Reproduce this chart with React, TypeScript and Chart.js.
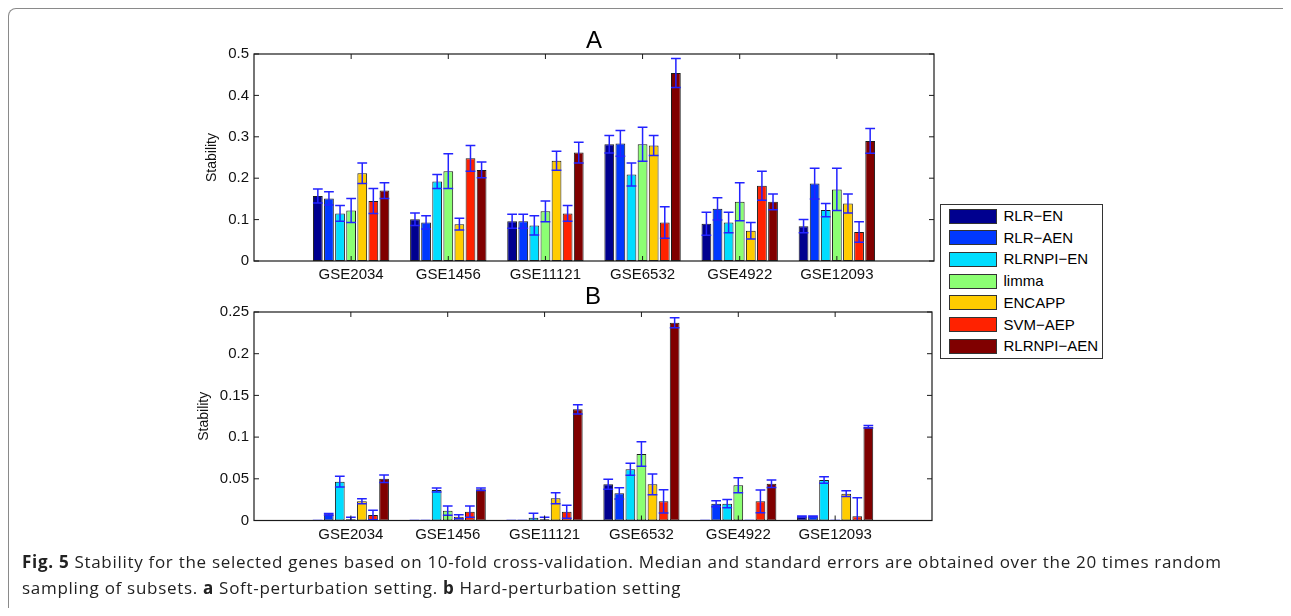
import React, { useEffect, useRef } from 'react';
import { Chart, registerables } from 'chart.js';

Chart.register(...registerables);

// ---------- data ----------
const categories = ['', 'GSE2034', 'GSE1456', 'GSE11121', 'GSE6532', 'GSE4922', 'GSE12093', ''];
const methods = ['RLR−EN', 'RLR−AEN', 'RLRNPI−EN', 'limma', 'ENCAPP', 'SVM−AEP', 'RLRNPI−AEN'];
const colors = ['#00008F', '#0038FF', '#00DDFF', '#8CFF73', '#FFCC00', '#FF2200', '#800000'];

// Panel A (soft perturbation) medians
const rlrEnA = [0.157, 0.101, 0.096, 0.282, 0.090, 0.084];
const rlrAenA = [0.151, 0.093, 0.096, 0.284, 0.126, 0.187];
const rlrnpiEnA = [0.115, 0.192, 0.086, 0.209, 0.093, 0.123];
const limmaA = [0.122, 0.217, 0.120, 0.282, 0.143, 0.173];
const encappA = [0.212, 0.089, 0.242, 0.279, 0.073, 0.139];
const svmAepA = [0.145, 0.248, 0.115, 0.093, 0.182, 0.070];
const rlrnpiAenA = [0.170, 0.220, 0.262, 0.454, 0.143, 0.290];

// Panel A standard errors
const rlrEnErrA = [0.017, 0.015, 0.017, 0.021, 0.028, 0.016];
const rlrAenErrA = [0.016, 0.016, 0.017, 0.031, 0.027, 0.037];
const rlrnpiEnErrA = [0.019, 0.017, 0.023, 0.028, 0.025, 0.016];
const limmaErrA = [0.029, 0.042, 0.025, 0.041, 0.046, 0.051];
const encappErrA = [0.025, 0.014, 0.023, 0.024, 0.020, 0.023];
const svmAepErrA = [0.030, 0.031, 0.019, 0.038, 0.035, 0.025];
const rlrnpiAenErrA = [0.019, 0.019, 0.025, 0.035, 0.019, 0.030];

// Panel B (hard perturbation) medians
const rlrEnB = [0, 0, 0, 0.0434, 0, 0.0048];
const rlrAenB = [0.0074, 0, 0, 0.0326, 0.0202, 0.0048];
const rlrnpiEnB = [0.0466, 0.0366, 0.0033, 0.0614, 0.0202, 0.0486];
const limmaB = [0.0015, 0.0118, 0.0015, 0.0797, 0.0422, 0];
const encappB = [0.023, 0.0045, 0.0267, 0.0434, 0, 0.0322];
const svmAepB = [0.0066, 0.0106, 0.0106, 0.023, 0.023, 0.0052];
const rlrnpiAenB = [0.050, 0.0376, 0.1333, 0.237, 0.044, 0.1125];

// Panel B standard errors
const rlrEnErrB = [0, 0, 0, 0.006, 0, 0.0005];
const rlrAenErrB = [0.001, 0, 0, 0.0067, 0.0036, 0.0005];
const rlrnpiEnErrB = [0.0065, 0.0025, 0.0055, 0.0072, 0.005, 0.004];
const limmaErrB = [0.0023, 0.0056, 0.0023, 0.0148, 0.009, 0];
const encappErrB = [0.003, 0.0025, 0.0065, 0.0124, 0, 0.0035];
const svmAepErrB = [0.0056, 0.0068, 0.0078, 0.014, 0.0136, 0.022];
const rlrnpiAenErrB = [0.0045, 0.0015, 0.0055, 0.006, 0.0045, 0.0015];

const yTicksA = [0, 0.1, 0.2, 0.3, 0.4, 0.5];
const yTickLabelsA = ['0', '0.1', '0.2', '0.3', '0.4', '0.5'];
const yTicksB = [0, 0.05, 0.1, 0.15, 0.2, 0.25];
const yTickLabelsB = ['0', '0.05', '0.1', '0.15', '0.2', '0.25'];

const seriesA = [rlrEnA, rlrAenA, rlrnpiEnA, limmaA, encappA, svmAepA, rlrnpiAenA];
const errorsA = [rlrEnErrA, rlrAenErrA, rlrnpiEnErrA, limmaErrA, encappErrA, svmAepErrA, rlrnpiAenErrA];
const seriesB = [rlrEnB, rlrAenB, rlrnpiEnB, limmaB, encappB, svmAepB, rlrnpiAenB];
const errorsB = [rlrEnErrB, rlrAenErrB, rlrnpiEnErrB, limmaErrB, encappErrB, svmAepErrB, rlrnpiAenErrB];

const FONT = '"Liberation Sans", Arial, Helvetica, sans-serif';

const matlabPlugin = {
  id: 'matlab',
  afterDatasetsDraw(chart: any, _args: any, opts: any) {
    const ctx = chart.ctx;
    const a = chart.chartArea;
    const xs = chart.scales.x;
    const ys = chart.scales.y;
    // error bars
    ctx.save();
    ctx.beginPath();
    ctx.rect(a.left, a.top - 1, a.right - a.left, a.bottom - a.top + 1);
    ctx.clip();
    ctx.strokeStyle = '#2323FF';
    ctx.lineWidth = 1.5;
    chart.data.datasets.forEach((ds: any, di: number) => {
      const meta = chart.getDatasetMeta(di);
      const errs = opts.errors[di];
      meta.data.forEach((el: any, i: number) => {
        const v = ds.data[i];
        if (v == null) return;
        const e = errs[i - 1];
        const p = el.getProps(['x', 'width'], true);
        const top = ys.getPixelForValue(v + e);
        const bot = ys.getPixelForValue(v - e);
        const hw = p.width / 2;
        ctx.beginPath();
        ctx.moveTo(p.x, top);
        ctx.lineTo(p.x, bot);
        ctx.moveTo(p.x - hw, top);
        ctx.lineTo(p.x + hw, top);
        ctx.moveTo(p.x - hw, bot);
        ctx.lineTo(p.x + hw, bot);
        ctx.stroke();
      });
    });
    ctx.restore();

    // box and inward ticks
    ctx.save();
    ctx.strokeStyle = '#1a1a1a';
    ctx.lineWidth = 1.2;
    ctx.strokeRect(a.left, a.top, a.right - a.left, a.bottom - a.top);
    ctx.lineWidth = 1;
    const tl = 5;
    ctx.beginPath();
    for (let i = 1; i < categories.length - 1; i++) {
      const px = xs.getPixelForValue(i);
      ctx.moveTo(px, a.top);
      ctx.lineTo(px, a.top + tl);
      ctx.moveTo(px, a.bottom);
      ctx.lineTo(px, a.bottom - tl);
    }
    opts.yTicks.forEach((v: number) => {
      const py = ys.getPixelForValue(v);
      ctx.moveTo(a.left, py);
      ctx.lineTo(a.left + tl, py);
      ctx.moveTo(a.right, py);
      ctx.lineTo(a.right - tl, py);
    });
    ctx.stroke();
    // panel title
    ctx.fillStyle = '#000';
    ctx.font = `24px ${FONT}`;
    ctx.textAlign = 'center';
    ctx.textBaseline = 'middle';
    ctx.fillText(opts.title, (a.left + a.right) / 2, a.top - opts.titleOffset);
    ctx.restore();
  },
};

function makeConfig(series: number[][], errors: number[][], yTicks: number[], yLabels: string[], max: number,
  padding: any, yWidth: number, title: string, titleOffset: number) {
  return {
    type: 'bar',
    data: {
      labels: categories,
      datasets: methods.map((m, i) => ({
        label: m,
        data: [null, ...series[i], null],
        backgroundColor: colors[i],
        borderColor: '#1c1c1c',
        borderWidth: 1,
        borderSkipped: false,
        categoryPercentage: 0.8,
        barPercentage: 0.88,
      })),
    },
    options: {
      responsive: false,
      animation: false,
      events: [],
      layout: { padding },
      plugins: {
        legend: { display: false },
        tooltip: { enabled: false },
        title: { display: false },
        matlab: { errors, yTicks, title, titleOffset },
      },
      scales: {
        x: {
          type: 'category',
          offset: false,
          grid: { display: false, drawTicks: false },
          border: { display: false },
          ticks: {
            autoSkip: false,
            maxRotation: 0,
            padding: 5,
            color: '#111',
            font: { family: FONT, size: 15 },
          },
          afterFit: (s: any) => { s.height = 30; },
        },
        y: {
          min: 0,
          max,
          grid: { display: false, drawTicks: false },
          border: { display: false },
          afterBuildTicks: (s: any) => { s.ticks = yTicks.map((v) => ({ value: v })); },
          ticks: {
            padding: 5,
            color: '#111',
            font: { family: FONT, size: 15 },
            callback: (_v: any, idx: number) => yLabels[idx],
          },
          title: {
            display: true,
            text: 'Stability',
            color: '#111',
            padding: 0,
            font: { family: FONT, size: 14, lineHeight: 1.2 },
          },
          afterFit: (s: any) => { s.width = yWidth; },
        },
      },
    },
    plugins: [matlabPlugin],
  };
}

const W = 1283;
const H = 600;

function ChartCanvas({ config }: { config: any }) {
  const ref = useRef<HTMLCanvasElement>(null);
  useEffect(() => {
    if (!ref.current) return;
    const ch = new Chart(ref.current, config);
    return () => ch.destroy();
  }, []);
  return (
    <canvas
      ref={ref}
      width={W}
      height={H}
      style={{ position: 'absolute', left: 0, top: 0, width: W, height: H }}
    />
  );
}

export default function App() {
  // root coordinates = page coordinates - 8
  const cfgA = makeConfig(seriesA, errorsA, yTicksA, yTickLabelsA, 0.5,
    { left: 196, top: 46, right: W - 926, bottom: H - 253 - 30 }, 50, 'A', 13);
  const cfgB = makeConfig(seriesB, errorsB, yTicksB, yTickLabelsB, 0.25,
    { left: 188, top: 304, right: W - 924, bottom: H - 512.5 - 30 }, 58, 'B', 15);

  const legendTop = 196;
  return (
    <div style={{ position: 'relative', width: W, height: H, overflow: 'hidden', fontFamily: FONT }}>
      <div
        style={{
          position: 'absolute', left: 0, top: 0, width: 1282, height: 900, boxSizing: 'border-box',
          borderTop: '1.5px solid #8a8a8a', borderLeft: '1.5px solid #8a8a8a', borderRight: '1.5px solid #8a8a8a',
          borderTopLeftRadius: 8, borderTopRightRadius: 8,
        }}
      />
      <ChartCanvas config={cfgA} />
      <ChartCanvas config={cfgB} />
      <div
        style={{
          position: 'absolute', left: 932, top: legendTop, width: 163, height: 155, boxSizing: 'border-box',
          border: '1.5px solid #333', background: '#fff',
        }}
      >
        {methods.map((m, i) => (
          <div key={m} style={{ position: 'absolute', left: 7.5, top: 3 + i * 21.7, height: 16, display: 'flex', alignItems: 'center' }}>
            <div style={{ width: 48, height: 15, background: colors[i], border: '1px solid #333', boxSizing: 'border-box' }} />
            <span style={{ marginLeft: 7, fontSize: 15, color: '#000', whiteSpace: 'nowrap', lineHeight: '16px' }}>{m}</span>
          </div>
        ))}
      </div>
      <div
        style={{
          position: 'absolute', left: 14, top: 541, width: 1265, fontFamily: '"Open Sans", sans-serif',
          fontSize: 17, lineHeight: '26px', color: '#222', letterSpacing: 0.7, whiteSpace: 'nowrap',
        }}
      >
        <b>Fig. 5</b> Stability for the selected genes based on 10-fold cross-validation. Median and standard errors are obtained over the 20 times random
        <br />
        sampling of subsets. <b>a</b> Soft-perturbation setting. <b>b</b> Hard-perturbation setting
      </div>
    </div>
  );
}
